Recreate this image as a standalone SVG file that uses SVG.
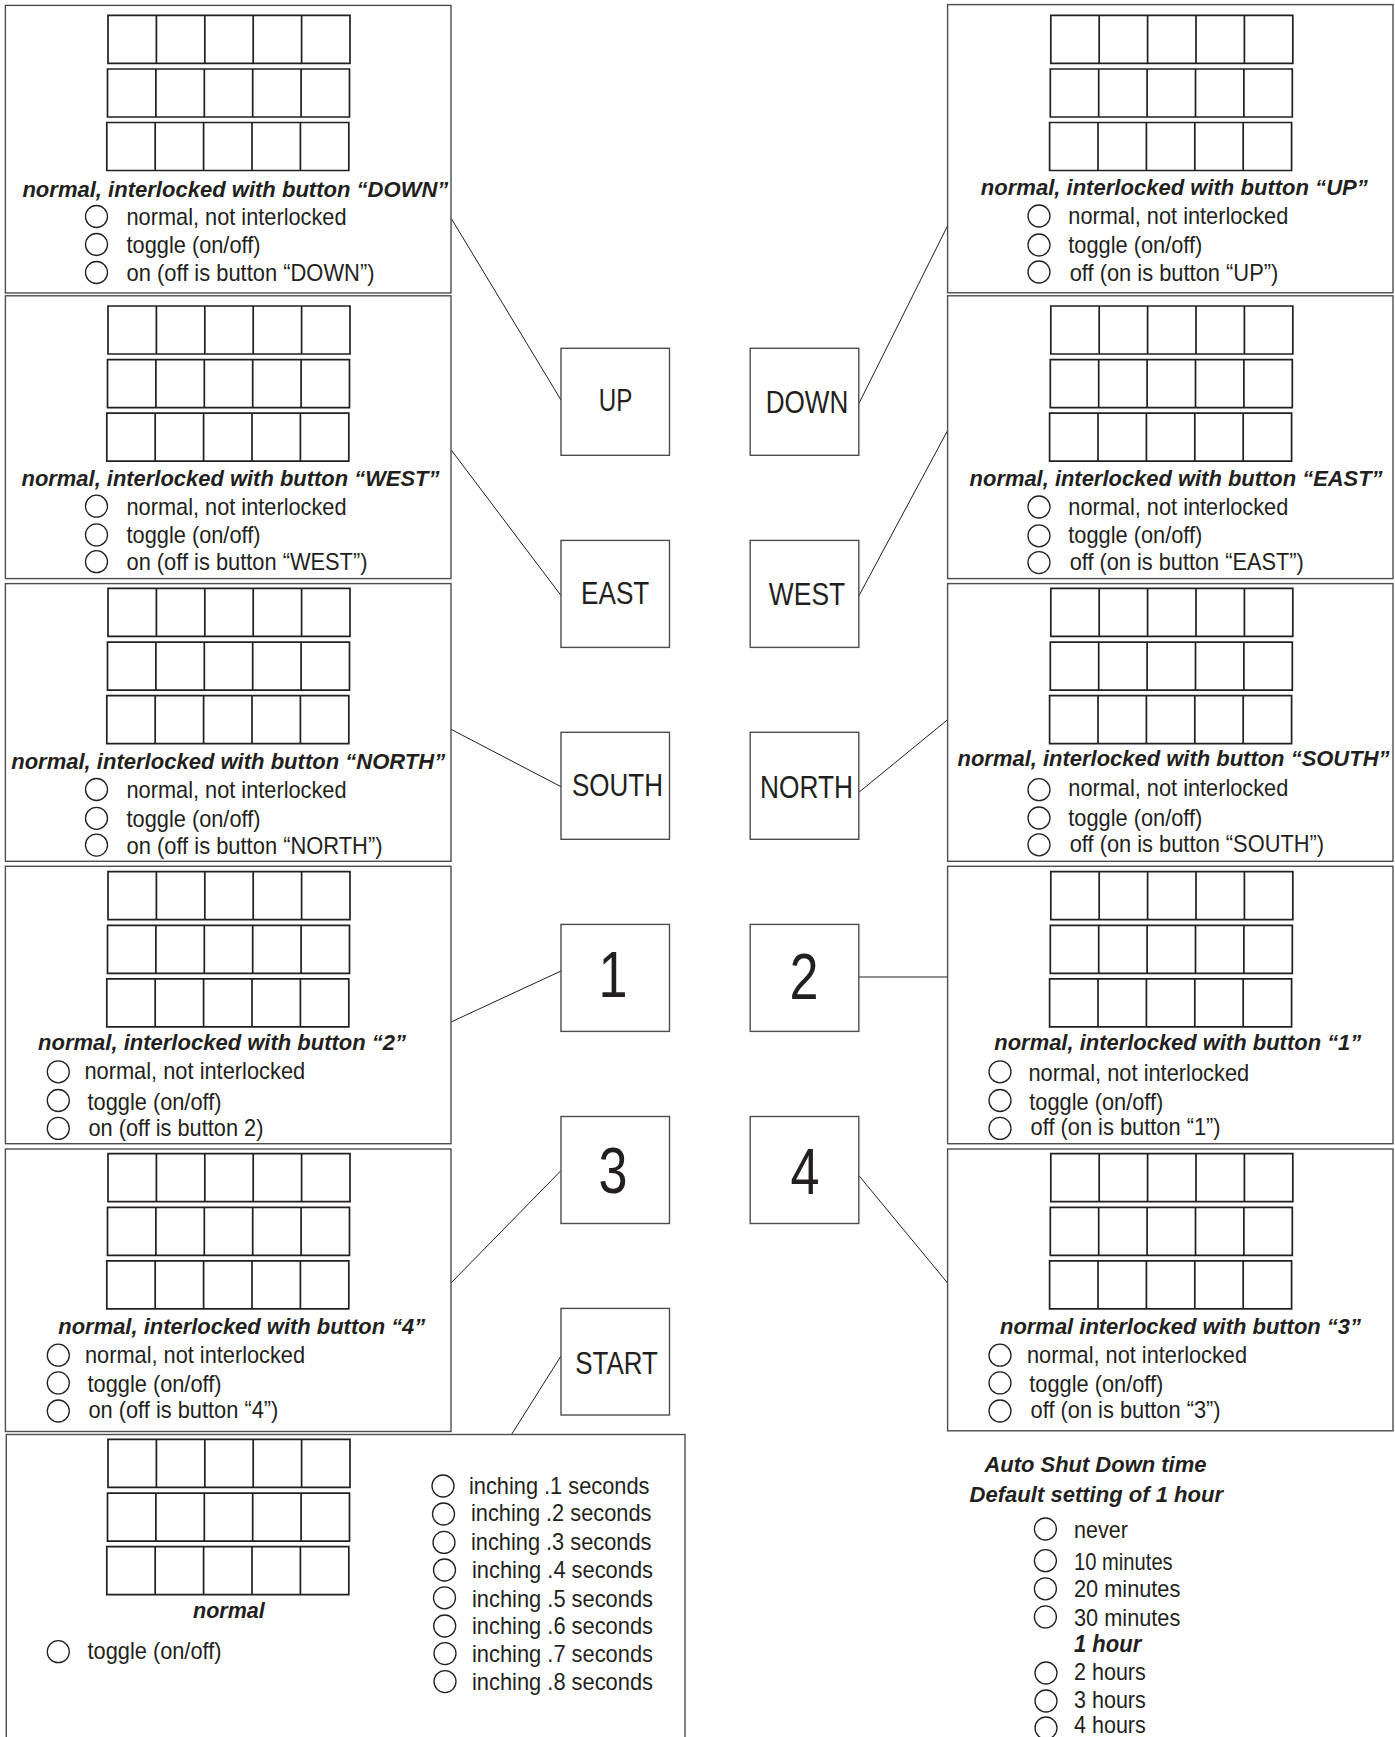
<svg xmlns="http://www.w3.org/2000/svg" xmlns:xlink="http://www.w3.org/1999/xlink" width="1395" height="1737" viewBox="0 0 1395 1737">
<style>
.pn{fill:#fff;stroke:#4d4d4f;stroke-width:1.4}
.cell{fill:none;stroke:#231f20;stroke-width:1.7}
.btn{fill:#fff;stroke:#4d4d4f;stroke-width:1.4}
.rad{fill:none;stroke:#231f20;stroke-width:1.3}
.con{stroke:#231f20;stroke-width:1;fill:none}
text{font-family:"Liberation Sans Narrow","Liberation Sans",Arial,sans-serif;fill:#231f20}
.t{font-size:24px}
.h{font-size:22px;font-weight:bold;font-style:italic}
.b{font-size:31px;text-anchor:middle}
.d{font-size:64px;text-anchor:middle}
</style>
<defs>
<path id="row" class="cell" d="M0,0h242v48h-242z M48.4,0v48 M96.8,0v48 M145.2,0v48 M193.6,0v48"/>
<g id="grid">
<use xlink:href="#row"/>
<use xlink:href="#row" x="-0.5" y="53.7"/>
<use xlink:href="#row" x="-1.2" y="107.2"/>
</g>
</defs>
<rect width="1395" height="1737" fill="#fff"/>

<g id="connectors">
<line class="con" x1="451" y1="218" x2="561" y2="400"/>
<line class="con" x1="451" y1="449.7" x2="561" y2="595.5"/>
<line class="con" x1="451" y1="729.3" x2="561" y2="786.7"/>
<line class="con" x1="451" y1="1022" x2="561" y2="971"/>
<line class="con" x1="451" y1="1283" x2="561" y2="1170.6"/>
<line class="con" x1="561" y1="1356" x2="511.5" y2="1434.5"/>
<line class="con" x1="858.8" y1="403.7" x2="947.6" y2="225.8"/>
<line class="con" x1="858.8" y1="596" x2="947.6" y2="430.5"/>
<line class="con" x1="858.8" y1="792.4" x2="947.6" y2="719.7"/>
<line class="con" x1="858.8" y1="977" x2="947.6" y2="977"/>
<line class="con" x1="858.8" y1="1175.5" x2="947.6" y2="1283"/>
</g>

<g id="panel-up">
<rect class="pn" x="5.4" y="5.4" width="445.6" height="287.6"/>
<use xlink:href="#grid" x="108" y="15.3"/>
<text class="h" x="22.4" y="197" textLength="426" lengthAdjust="spacingAndGlyphs">normal, interlocked with button “DOWN”</text>
<circle class="rad" cx="96.5" cy="216.5" r="11"/>
<circle class="rad" cx="96.5" cy="244.5" r="11"/>
<circle class="rad" cx="96.5" cy="272.5" r="11"/>
<text class="t" x="126.5" y="225" textLength="220" lengthAdjust="spacingAndGlyphs">normal, not interlocked</text>
<text class="t" x="126.5" y="252.6" textLength="134" lengthAdjust="spacingAndGlyphs">toggle (on/off)</text>
<text class="t" x="126.5" y="281" textLength="248" lengthAdjust="spacingAndGlyphs">on (off is button “DOWN”)</text>
</g>

<g id="panel-east">
<rect class="pn" x="5.4" y="295.8" width="445.6" height="282.8"/>
<use xlink:href="#grid" x="108" y="306"/>
<text class="h" x="21.5" y="486" textLength="418" lengthAdjust="spacingAndGlyphs">normal, interlocked with button “WEST”</text>
<circle class="rad" cx="96.5" cy="506.2" r="11"/>
<circle class="rad" cx="96.5" cy="534.9" r="11"/>
<circle class="rad" cx="96.5" cy="561.7" r="11"/>
<text class="t" x="126.5" y="514.7" textLength="220" lengthAdjust="spacingAndGlyphs">normal, not interlocked</text>
<text class="t" x="126.5" y="543.4" textLength="134" lengthAdjust="spacingAndGlyphs">toggle (on/off)</text>
<text class="t" x="126.5" y="570.2" textLength="241" lengthAdjust="spacingAndGlyphs">on (off is button “WEST”)</text>
</g>

<g id="panel-south">
<rect class="pn" x="5.4" y="583.6" width="445.6" height="277.7"/>
<use xlink:href="#grid" x="108" y="588.4"/>
<text class="h" x="11.2" y="769.4" textLength="434" lengthAdjust="spacingAndGlyphs">normal, interlocked with button “NORTH”</text>
<circle class="rad" cx="96.5" cy="789.5" r="11"/>
<circle class="rad" cx="96.5" cy="818.3" r="11"/>
<circle class="rad" cx="96.5" cy="845.1" r="11"/>
<text class="t" x="126.5" y="798" textLength="220" lengthAdjust="spacingAndGlyphs">normal, not interlocked</text>
<text class="t" x="126.5" y="826.8" textLength="134" lengthAdjust="spacingAndGlyphs">toggle (on/off)</text>
<text class="t" x="126.5" y="853.6" textLength="256" lengthAdjust="spacingAndGlyphs">on (off is button “NORTH”)</text>
</g>

<g id="panel-1">
<rect class="pn" x="5.4" y="866.3" width="445.6" height="277.4"/>
<use xlink:href="#grid" x="108" y="871.6"/>
<text class="h" x="38.1" y="1050" textLength="368" lengthAdjust="spacingAndGlyphs">normal, interlocked with button “2”</text>
<circle class="rad" cx="58.3" cy="1071.8" r="11"/>
<circle class="rad" cx="58.3" cy="1100.5" r="11"/>
<circle class="rad" cx="58.3" cy="1128.4" r="11"/>
<text class="t" x="84.4" y="1079.4" textLength="220.8" lengthAdjust="spacingAndGlyphs">normal, not interlocked</text>
<text class="t" x="87.5" y="1110" textLength="134" lengthAdjust="spacingAndGlyphs">toggle (on/off)</text>
<text class="t" x="88.4" y="1135.7" textLength="175" lengthAdjust="spacingAndGlyphs">on (off is button 2)</text>
</g>

<g id="panel-3">
<rect class="pn" x="5.4" y="1149" width="445.6" height="282.5"/>
<use xlink:href="#grid" x="108" y="1153.7"/>
<text class="h" x="58.3" y="1333.5" textLength="367" lengthAdjust="spacingAndGlyphs">normal, interlocked with button “4”</text>
<circle class="rad" cx="58.3" cy="1355.2" r="11"/>
<circle class="rad" cx="58.3" cy="1382.9" r="11"/>
<circle class="rad" cx="58.3" cy="1411" r="11"/>
<text class="t" x="85" y="1363.4" textLength="220" lengthAdjust="spacingAndGlyphs">normal, not interlocked</text>
<text class="t" x="87.5" y="1391.5" textLength="134" lengthAdjust="spacingAndGlyphs">toggle (on/off)</text>
<text class="t" x="88.4" y="1417.7" textLength="190" lengthAdjust="spacingAndGlyphs">on (off is button “4”)</text>
</g>

<g id="panel-start">
<rect class="pn" x="6.3" y="1434.5" width="678.7" height="330"/>
<use xlink:href="#grid" x="108" y="1439.4"/>
<text class="h" x="193" y="1618" textLength="71.7" lengthAdjust="spacingAndGlyphs">normal</text>
<circle class="rad" cx="58.3" cy="1651.7" r="11"/>
<text class="t" x="87.5" y="1659" textLength="134" lengthAdjust="spacingAndGlyphs">toggle (on/off)</text>
<circle class="rad" cx="443" cy="1486" r="11"/>
<circle class="rad" cx="443.5" cy="1514" r="11"/>
<circle class="rad" cx="444" cy="1542.4" r="11"/>
<circle class="rad" cx="444.5" cy="1570" r="11"/>
<circle class="rad" cx="444.5" cy="1597.8" r="11"/>
<circle class="rad" cx="444.7" cy="1626" r="11"/>
<circle class="rad" cx="445" cy="1653.6" r="11"/>
<circle class="rad" cx="445" cy="1681.6" r="11"/>
<text class="t" x="469" y="1493.7" textLength="180.4" lengthAdjust="spacingAndGlyphs">inching .1 seconds</text>
<text class="t" x="471" y="1520.7" textLength="180.4" lengthAdjust="spacingAndGlyphs">inching .2 seconds</text>
<text class="t" x="471" y="1549.9" textLength="180.4" lengthAdjust="spacingAndGlyphs">inching .3 seconds</text>
<text class="t" x="472" y="1578" textLength="181" lengthAdjust="spacingAndGlyphs">inching .4 seconds</text>
<text class="t" x="472" y="1606.8" textLength="181" lengthAdjust="spacingAndGlyphs">inching .5 seconds</text>
<text class="t" x="472" y="1633.7" textLength="181" lengthAdjust="spacingAndGlyphs">inching .6 seconds</text>
<text class="t" x="472" y="1661.8" textLength="181" lengthAdjust="spacingAndGlyphs">inching .7 seconds</text>
<text class="t" x="472" y="1690.3" textLength="181" lengthAdjust="spacingAndGlyphs">inching .8 seconds</text>
</g>

<g id="panel-down">
<rect class="pn" x="947.6" y="4.6" width="445.4" height="288.2"/>
<use xlink:href="#grid" x="1050.8" y="15.3"/>
<text class="h" x="980.8" y="195.2" textLength="387" lengthAdjust="spacingAndGlyphs">normal, interlocked with button “UP”</text>
<circle class="rad" cx="1039" cy="216" r="11"/>
<circle class="rad" cx="1039" cy="245" r="11"/>
<circle class="rad" cx="1039" cy="272" r="11"/>
<text class="t" x="1068.3" y="223.9" textLength="220" lengthAdjust="spacingAndGlyphs">normal, not interlocked</text>
<text class="t" x="1068.3" y="252.6" textLength="134" lengthAdjust="spacingAndGlyphs">toggle (on/off)</text>
<text class="t" x="1069.7" y="281.3" textLength="208.6" lengthAdjust="spacingAndGlyphs">off (on is button “UP”)</text>
</g>

<g id="panel-west">
<rect class="pn" x="947.6" y="295.8" width="445.4" height="282.8"/>
<use xlink:href="#grid" x="1050.8" y="306"/>
<text class="h" x="969.6" y="486" textLength="413" lengthAdjust="spacingAndGlyphs">normal, interlocked with button “EAST”</text>
<circle class="rad" cx="1039" cy="507" r="11"/>
<circle class="rad" cx="1039" cy="535.8" r="11"/>
<circle class="rad" cx="1039" cy="562.6" r="11"/>
<text class="t" x="1068.3" y="514.7" textLength="220" lengthAdjust="spacingAndGlyphs">normal, not interlocked</text>
<text class="t" x="1068.3" y="543.4" textLength="134" lengthAdjust="spacingAndGlyphs">toggle (on/off)</text>
<text class="t" x="1069.7" y="570.2" textLength="234" lengthAdjust="spacingAndGlyphs">off (on is button “EAST”)</text>
</g>

<g id="panel-north">
<rect class="pn" x="947.6" y="583.6" width="445.4" height="277.7"/>
<use xlink:href="#grid" x="1050.8" y="588.4"/>
<text class="h" x="957.5" y="765.6" textLength="432" lengthAdjust="spacingAndGlyphs">normal, interlocked with button “SOUTH”</text>
<circle class="rad" cx="1039" cy="789.7" r="11"/>
<circle class="rad" cx="1039" cy="818" r="11"/>
<circle class="rad" cx="1039" cy="844.8" r="11"/>
<text class="t" x="1068.3" y="796.2" textLength="220" lengthAdjust="spacingAndGlyphs">normal, not interlocked</text>
<text class="t" x="1068.3" y="826" textLength="134" lengthAdjust="spacingAndGlyphs">toggle (on/off)</text>
<text class="t" x="1069.7" y="851.7" textLength="254.4" lengthAdjust="spacingAndGlyphs">off (on is button “SOUTH”)</text>
</g>

<g id="panel-2">
<rect class="pn" x="947.6" y="866.3" width="445.4" height="277.4"/>
<use xlink:href="#grid" x="1050.8" y="871.6"/>
<text class="h" x="994.3" y="1050" textLength="367" lengthAdjust="spacingAndGlyphs">normal, interlocked with button “1”</text>
<circle class="rad" cx="1000" cy="1071.8" r="11"/>
<circle class="rad" cx="1000" cy="1100.5" r="11"/>
<circle class="rad" cx="1000" cy="1128.4" r="11"/>
<text class="t" x="1028.4" y="1081.3" textLength="220.8" lengthAdjust="spacingAndGlyphs">normal, not interlocked</text>
<text class="t" x="1029.3" y="1110" textLength="134" lengthAdjust="spacingAndGlyphs">toggle (on/off)</text>
<text class="t" x="1030.6" y="1135" textLength="190" lengthAdjust="spacingAndGlyphs">off (on is button “1”)</text>
</g>

<g id="panel-4">
<rect class="pn" x="947.6" y="1149" width="445.4" height="281.8"/>
<use xlink:href="#grid" x="1050.8" y="1153.7"/>
<text class="h" x="1000" y="1333.5" textLength="361" lengthAdjust="spacingAndGlyphs">normal interlocked with button “3”</text>
<circle class="rad" cx="1000" cy="1355.2" r="11"/>
<circle class="rad" cx="1000" cy="1382.9" r="11"/>
<circle class="rad" cx="1000" cy="1411" r="11"/>
<text class="t" x="1027" y="1363.4" textLength="220" lengthAdjust="spacingAndGlyphs">normal, not interlocked</text>
<text class="t" x="1029.3" y="1391.5" textLength="134" lengthAdjust="spacingAndGlyphs">toggle (on/off)</text>
<text class="t" x="1030.6" y="1417.7" textLength="190" lengthAdjust="spacingAndGlyphs">off (on is button “3”)</text>
</g>

<g id="auto-shutdown">
<text class="h" x="984.4" y="1472" textLength="222" lengthAdjust="spacingAndGlyphs">Auto Shut Down time</text>
<text class="h" x="969.6" y="1502" textLength="253.4" lengthAdjust="spacingAndGlyphs">Default setting of 1 hour</text>
<circle class="rad" cx="1045.4" cy="1529" r="11"/>
<circle class="rad" cx="1045.4" cy="1560.7" r="11"/>
<circle class="rad" cx="1045.4" cy="1588.8" r="11"/>
<circle class="rad" cx="1045.4" cy="1616.9" r="11"/>
<circle class="rad" cx="1046" cy="1673" r="11"/>
<circle class="rad" cx="1046" cy="1701" r="11"/>
<circle class="rad" cx="1046" cy="1728" r="11"/>
<text class="t" x="1074" y="1537.5" textLength="53.8" lengthAdjust="spacingAndGlyphs">never</text>
<text class="t" x="1074" y="1570" textLength="98.7" lengthAdjust="spacingAndGlyphs">10 minutes</text>
<text class="t" x="1074" y="1597.4" textLength="106.3" lengthAdjust="spacingAndGlyphs">20 minutes</text>
<text class="t" x="1074" y="1625.5" textLength="106.3" lengthAdjust="spacingAndGlyphs">30 minutes</text>
<text class="h" x="1074" y="1651.7" textLength="67.3" lengthAdjust="spacingAndGlyphs" style="font-size:24px">1 hour</text>
<text class="t" x="1074" y="1679.8" textLength="71.8" lengthAdjust="spacingAndGlyphs">2 hours</text>
<text class="t" x="1074" y="1707.8" textLength="71.8" lengthAdjust="spacingAndGlyphs">3 hours</text>
<text class="t" x="1074" y="1733" textLength="71.8" lengthAdjust="spacingAndGlyphs">4 hours</text>
</g>

<g id="btn-up"><rect class="btn" x="561" y="348.3" width="108.5" height="107"/><text class="b" x="615.6" y="411.4" textLength="33.6" lengthAdjust="spacingAndGlyphs">UP</text></g>
<g id="btn-east"><rect class="btn" x="561" y="540.4" width="108.5" height="107"/><text class="b" x="615.2" y="604" textLength="68.2" lengthAdjust="spacingAndGlyphs">EAST</text></g>
<g id="btn-south"><rect class="btn" x="561" y="732.3" width="108.5" height="107"/><text class="b" x="617.5" y="796.2" textLength="91" lengthAdjust="spacingAndGlyphs">SOUTH</text></g>
<g id="btn-1"><rect class="btn" x="561" y="924.4" width="108.5" height="107"/><text class="d" x="613" y="997" textLength="29" lengthAdjust="spacingAndGlyphs">1</text></g>
<g id="btn-3"><rect class="btn" x="561" y="1116.5" width="108.5" height="107"/><text class="d" x="613" y="1192.5" textLength="29" lengthAdjust="spacingAndGlyphs">3</text></g>
<g id="btn-start"><rect class="btn" x="561" y="1308.4" width="108.5" height="106.6"/><text class="b" x="616.5" y="1374" textLength="82.6" lengthAdjust="spacingAndGlyphs">START</text></g>
<g id="btn-down"><rect class="btn" x="750.2" y="348.3" width="108.6" height="107"/><text class="b" x="807" y="413.3" textLength="82.6" lengthAdjust="spacingAndGlyphs">DOWN</text></g>
<g id="btn-west"><rect class="btn" x="750.2" y="540.4" width="108.6" height="107"/><text class="b" x="807" y="604.9" textLength="76.3" lengthAdjust="spacingAndGlyphs">WEST</text></g>
<g id="btn-north"><rect class="btn" x="750.2" y="732.3" width="108.6" height="107"/><text class="b" x="806.5" y="798" textLength="92.9" lengthAdjust="spacingAndGlyphs">NORTH</text></g>
<g id="btn-2"><rect class="btn" x="750.2" y="924.4" width="108.6" height="107"/><text class="d" x="804" y="999" textLength="29" lengthAdjust="spacingAndGlyphs">2</text></g>
<g id="btn-4"><rect class="btn" x="750.2" y="1116.5" width="108.6" height="107"/><text class="d" x="805" y="1194" textLength="29" lengthAdjust="spacingAndGlyphs">4</text></g>
</svg>
